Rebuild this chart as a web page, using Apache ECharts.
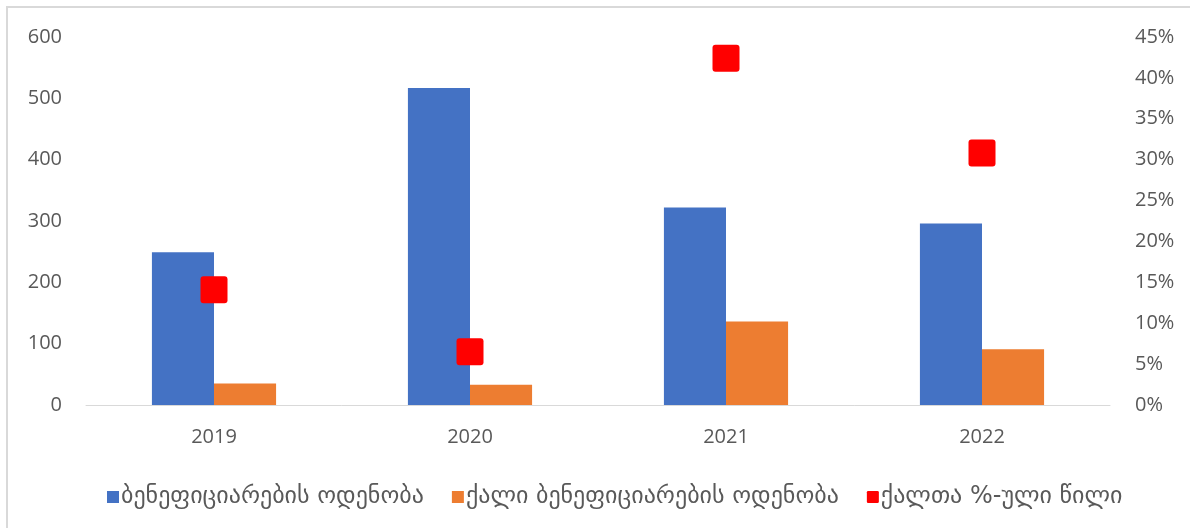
<!DOCTYPE html>
<html>
<head>
<meta charset="utf-8">
<script src="https://cdn.jsdelivr.net/npm/echarts@6/dist/echarts.min.js"></script>
<style>html,body{margin:0;padding:0;background:#fff}#c{width:1190px;height:528px}</style>
</head>
<body>
<div id="c"></div>
<script>
const categories = ['2019', '2020', '2021', '2022'];
const seriesNames = ['ბენეფიციარების ოდენობა', 'ქალი ბენეფიციარების ოდენობა', 'ქალთა %-ული წილი'];
const beneficiaries = [249, 517, 322, 296];
const womenBeneficiaries = [35, 33, 136, 91];
const womenSharePct = [14.1, 6.5, 42.4, 30.8];
const leftTicks = [0, 100, 200, 300, 400, 500, 600];
const rightTicks = [0, 5, 10, 15, 20, 25, 30, 35, 40, 45];

const FONT = "'Open Sans', 'DejaVu Sans', sans-serif";
const GREY = '#595959';
const ROUND_SQ = 'path://M3,0H24Q27,0 27,3V24Q27,27 24,27H3Q0,27 0,24V3Q0,0 3,0Z';
const chart = echarts.init(document.getElementById('c'));
chart.setOption({
  animation: false,
  backgroundColor: '#fff',
  textStyle: { fontFamily: FONT },
  graphic: [
    { type: 'line', shape: { x1: 7, y1: 7, x2: 7, y2: 528 }, style: { stroke: '#d9d9d9', lineWidth: 2 } },
    { type: 'line', shape: { x1: 6, y1: 7, x2: 1190, y2: 7 }, style: { stroke: '#d9d9d9', lineWidth: 2 } }
  ],
  grid: { left: 86, right: 80, top: 37, bottom: 123, containLabel: false },
  legend: {
    top: 480, left: 102,
    itemWidth: 12, itemHeight: 12, itemGap: 28,
    textStyle: { color: GREY, fontSize: 24, fontFamily: "'DejaVu Sans', sans-serif", padding: [0, 0, 0, -3] },
    data: [
      { name: seriesNames[0], icon: 'rect' },
      { name: seriesNames[1], icon: 'rect' },
      { name: seriesNames[2], icon: ROUND_SQ }
    ]
  },
  xAxis: {
    type: 'category', data: categories,
    axisLine: { lineStyle: { color: '#d9d9d9', width: 1 } },
    axisTick: { show: false },
    axisLabel: { color: GREY, fontSize: 20, margin: 22, fontFamily: FONT }
  },
  yAxis: [
    {
      type: 'value', min: leftTicks[0], max: leftTicks[leftTicks.length - 1], interval: 100,
      axisLine: { show: false }, axisTick: { show: false }, splitLine: { show: false },
      axisLabel: { color: GREY, fontSize: 20, margin: 24, fontFamily: FONT }
    },
    {
      type: 'value', min: rightTicks[0], max: rightTicks[rightTicks.length - 1], interval: 5,
      axisLine: { show: false }, axisTick: { show: false }, splitLine: { show: false },
      axisLabel: { color: GREY, fontSize: 20, margin: 25, fontFamily: FONT, formatter: '{value}%' }
    }
  ],
  series: [
    {
      name: seriesNames[0], type: 'bar', data: beneficiaries,
      barGap: '0%', barCategoryGap: '51.5%',
      itemStyle: { color: '#4472c4' }
    },
    {
      name: seriesNames[1], type: 'bar', data: womenBeneficiaries,
      barGap: '0%', barCategoryGap: '51.5%',
      itemStyle: { color: '#ed7d31' }
    },
    {
      name: seriesNames[2], type: 'scatter', yAxisIndex: 1, data: womenSharePct,
      symbol: ROUND_SQ, symbolSize: 27,
      itemStyle: { color: '#ff0000', opacity: 1 }, z: 5
    }
  ]
});
</script>
</body>
</html>
